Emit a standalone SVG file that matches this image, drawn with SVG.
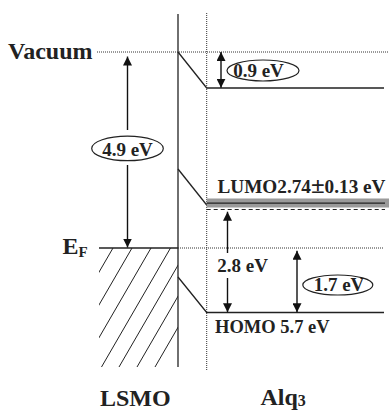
<svg xmlns="http://www.w3.org/2000/svg" width="389" height="410" viewBox="0 0 389 410">
<style>
.t{font-family:"Liberation Serif","Times New Roman",serif;font-weight:bold;fill:#222}
.ln{stroke:#222;stroke-width:1.3;fill:none}
.dot{stroke:#333;stroke-width:1;stroke-dasharray:1,1;fill:none}
.hat{stroke:#222;stroke-width:1;fill:none}
.ell{stroke:#222;stroke-width:1.2;fill:none}
.arr{stroke:#111;stroke-width:1.4;fill:none}
</style>
<defs>
<marker id="ah" viewBox="0 0 10 10" refX="10" refY="5" markerWidth="9" markerHeight="9" markerUnits="userSpaceOnUse" orient="auto">
<path d="M0,0 L10,5 L0,10 Z" fill="#111"/>
</marker>
<clipPath id="hc"><rect x="99" y="248" width="79" height="119"/></clipPath>
</defs>
<g id="frame">
<line class="ln" x1="178" y1="14" x2="178" y2="367"/>
<line class="dot" x1="206.7" y1="13" x2="206.7" y2="370"/>
<line class="dot" x1="97" y1="52" x2="388" y2="52"/>
<line class="dot" x1="178" y1="248" x2="383" y2="248"/>
</g>
<g id="lsmo">
<line class="ln" x1="99" y1="248" x2="178" y2="248"/>
<g clip-path="url(#hc)">
<line class="hat" x1="113" y1="248" x2="44" y2="367"/>
<line class="hat" x1="132" y1="248" x2="63" y2="367"/>
<line class="hat" x1="151" y1="248" x2="82" y2="367"/>
<line class="hat" x1="170.5" y1="248" x2="101.5" y2="367"/>
<line class="hat" x1="188" y1="248" x2="119" y2="367"/>
<line class="hat" x1="206" y1="248" x2="137" y2="367"/>
<line class="hat" x1="224" y1="248" x2="155" y2="367"/>
</g>
</g>
<g id="levels">
<polyline class="ln" points="178,52 206.7,88 384,88"/>
<polyline class="ln" points="178,169 206.7,205"/>
<rect x="206.7" y="198.5" width="182.3" height="9" fill="#9a9a9a"/>
<line x1="206.7" y1="203.2" x2="385" y2="203.2" stroke="#222" stroke-width="1.3"/>
<line x1="206.7" y1="209.5" x2="385" y2="209.5" stroke="#222" stroke-width="1.1" stroke-dasharray="4,3"/>
<polyline class="ln" points="178,277 206.7,312.5 384,312.5"/>
</g>
<g id="connectors">
<line class="arr" x1="127.5" y1="130" x2="127.5" y2="56.5" marker-end="url(#ah)"/>
<line class="arr" x1="127.5" y1="165" x2="127.5" y2="247.5" marker-end="url(#ah)"/>
<line class="arr" x1="221" y1="70" x2="221" y2="52" marker-end="url(#ah)"/>
<line class="arr" x1="221" y1="70" x2="221" y2="87.7" marker-end="url(#ah)"/>
<line class="arr" x1="227.5" y1="253" x2="227.5" y2="211.7" marker-end="url(#ah)"/>
<line class="arr" x1="227.5" y1="278" x2="227.5" y2="312.3" marker-end="url(#ah)"/>
<line class="arr" x1="297" y1="280" x2="297" y2="250.7" marker-end="url(#ah)"/>
<line class="arr" x1="297" y1="280" x2="297" y2="312.3" marker-end="url(#ah)"/>
</g>
<g id="labels">
<text class="t" x="8" y="59" font-size="24">Vacuum</text>
<text class="t" x="62.5" y="254" font-size="24">E<tspan font-size="15" dy="3">F</tspan></text>
<g id="l49"><ellipse class="ell" cx="127.5" cy="148.4" rx="35.8" ry="12.3"/><text class="t" x="127.5" y="156" font-size="19" text-anchor="middle">4.9 eV</text></g>
<g id="l09"><ellipse class="ell" cx="263" cy="70.5" rx="36" ry="10.5"/><text class="t" x="258.5" y="76.5" font-size="19" text-anchor="middle">0.9 eV</text></g>
<text class="t" x="217.5" y="192.7" font-size="18.5" textLength="168" lengthAdjust="spacingAndGlyphs">LUMO2.74<tspan font-size="24">±</tspan>0.13 eV</text>
<text class="t" x="217.3" y="272" font-size="19">2.8 eV</text>
<g id="l17"><ellipse class="ell" cx="337.8" cy="285" rx="35" ry="10"/><text class="t" x="339" y="291" font-size="19" text-anchor="middle">1.7 eV</text></g>
<text class="t" x="215" y="333" font-size="18.5">HOMO 5.7 eV</text>
<text class="t" x="100" y="406" font-size="24">LSMO</text>
<text class="t" x="260.5" y="405" font-size="24">Alq<tspan font-size="16" dy="1">3</tspan></text>
</g>
</svg>
